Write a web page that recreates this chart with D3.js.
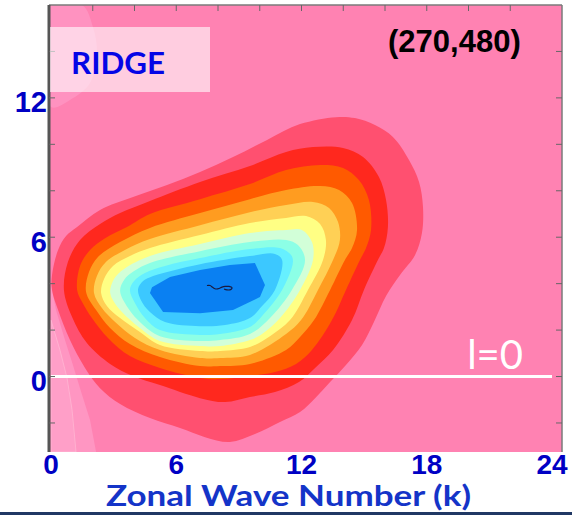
<!DOCTYPE html>
<html>
<head>
<meta charset="utf-8">
<script src="https://cdn.jsdelivr.net/npm/d3@7/dist/d3.min.js"></script>
<style>
  html, body { margin: 0; padding: 0; background: #fff; }
  svg { display: block; }
</style>
</head>
<body>
<svg id="chart" width="572" height="515"></svg>
<script>
// Axis ticks and labels
const kLabels = [0, 6, 12, 18, 24];
const lLabels = [0, 6, 12];
const kMinorTicks = [2, 4, 6, 8, 10, 12, 14, 16, 18, 20, 22];
const lMinorTicks = [-2, 0, 2, 4, 6, 8, 10, 12, 14];

// Contour boundaries in (k, l), outermost level first
const lvCoral = [[0.05,4.37],[0.34,5.45],[0.72,6.05],[1.25,6.44],[2.35,7.17],[3.93,7.73],[5.56,8.25],[7.14,8.81],[8.72,9.45],[10.35,10.19],[11.93,10.87],[13.65,11.17],[14.56,11.13],[15.52,10.83],[16.38,10.32],[17.15,9.33],[17.63,8.38],[17.82,7.3],[17.77,6.18],[17.44,5.23],[16.72,4.37],[16.05,3.47],[15.47,2.35],[14.9,1.36],[14.13,0.5],[13.37,-0.24],[12.65,-0.93],[11.93,-1.53],[10.97,-1.96],[9.77,-2.48],[8.57,-2.82],[7.38,-2.61],[6.18,-2.22],[4.74,-1.79],[3.31,-1.18],[2.35,-0.5],[1.63,0.37],[0.91,1.57],[0.34,2.86],[0.05,3.73]];
const lvRed = [[0.62,3.73],[0.81,4.93],[1.39,5.88],[2.35,6.57],[3.31,7.04],[4.74,7.56],[7.14,8.38],[9.53,9.07],[11.26,9.67],[12.55,9.88],[13.99,9.84],[14.95,9.45],[15.71,8.59],[16.05,7.6],[16.14,6.44],[15.95,5.53],[15.66,5.02],[14.99,3.73],[14.42,2.43],[13.51,1.14],[12.65,0.37],[11.88,-0.24],[10.73,-0.67],[9.53,-0.88],[8.34,-1.1],[7.14,-0.93],[5.22,-0.37],[3.93,0.02],[2.83,0.54],[1.72,1.44],[1.01,2.56]];
const lvOrangeRed = [[1.25,3.73],[1.39,4.76],[1.87,5.45],[2.59,5.96],[3.64,6.44],[4.74,7.0],[7.14,7.64],[9.53,8.29],[11.26,8.89],[12.89,9.11],[13.99,8.98],[14.75,8.46],[15.23,7.6],[15.33,6.31],[15.09,5.53],[14.8,5.02],[14.13,3.73],[13.46,2.43],[12.5,1.14],[11.74,0.54],[10.73,0.19],[9.53,0.02],[8.1,-0.11],[7.14,-0.06],[5.22,0.37],[3.78,0.88],[2.73,1.66],[1.96,2.52],[1.49,3.21]];
const lvOrange = [[1.68,3.64],[1.82,4.5],[2.25,5.15],[3.31,5.79],[4.74,6.4],[7.14,7.04],[9.53,7.64],[11.26,8.03],[12.89,8.2],[13.8,8.03],[14.42,7.47],[14.66,6.31],[14.42,5.53],[14.08,5.02],[13.37,3.73],[12.6,2.43],[11.93,1.7],[11.26,1.14],[9.53,0.54],[8.1,0.45],[7.14,0.45],[5.22,0.84],[3.78,1.4],[2.83,2.09],[2.16,2.86]];
const lvLightOrange = [[2.06,3.6],[2.2,4.33],[2.63,4.93],[3.54,5.45],[4.74,5.92],[7.14,6.52],[9.53,7.08],[11.26,7.39],[12.55,7.52],[13.32,7.26],[13.75,6.65],[13.84,5.88],[13.51,5.02],[12.79,3.73],[11.98,2.43],[11.26,1.83],[9.53,0.93],[8.1,0.8],[7.14,0.8],[5.22,1.14],[4.02,1.66],[3.07,2.35],[2.44,2.95]];
const lvYellow = [[2.4,3.6],[2.54,4.2],[2.97,4.76],[3.78,5.19],[4.74,5.53],[7.14,6.09],[9.53,6.61],[11.26,6.83],[12.22,6.91],[12.89,6.57],[13.17,5.88],[13.03,5.02],[12.31,3.73],[11.45,2.43],[10.49,1.74],[9.53,1.27],[8.1,1.1],[7.14,1.1],[5.22,1.36],[4.26,1.92],[3.31,2.52],[2.68,3.04]];
const lvPaleMint = [[2.83,3.64],[3.02,4.2],[3.5,4.63],[4.74,5.19],[7.14,5.71],[9.53,6.18],[11.26,6.31],[12.02,6.31],[12.5,5.79],[12.55,5.02],[11.93,3.73],[10.97,2.52],[10.11,1.83],[9.53,1.57],[8.1,1.31],[7.14,1.31],[5.22,1.53],[4.26,2.09],[3.4,2.78],[3.02,3.21]];
const lvAqua = [[3.31,3.68],[3.5,4.16],[3.98,4.54],[4.74,4.89],[7.14,5.4],[9.53,5.79],[11.26,5.88],[11.83,5.66],[12.17,5.02],[11.54,3.73],[10.49,2.52],[9.53,1.83],[8.1,1.57],[7.14,1.53],[5.22,1.74],[4.36,2.26],[3.69,2.95]];
const lvCyan = [[3.78,3.73],[3.98,4.11],[4.5,4.46],[5.46,4.76],[7.14,5.1],[9.53,5.49],[10.97,5.53],[11.5,5.23],[11.59,4.93],[11.07,3.73],[10.11,2.61],[9.53,2.13],[8.1,1.83],[7.14,1.79],[5.22,2.0],[4.5,2.52],[4.02,3.17]];
const lvSky = [[4.17,3.77],[4.41,4.11],[4.89,4.33],[5.94,4.59],[7.14,4.84],[9.53,5.19],[10.73,5.28],[11.07,5.02],[10.73,3.73],[10.11,3.04],[9.53,2.52],[8.34,2.22],[7.14,2.17],[5.46,2.35],[4.74,2.78],[4.31,3.29]];
const lvBlue = [[4.84,3.85],[5.7,4.29],[7.14,4.59],[8.57,4.8],[9.77,4.89],[10.25,3.94],[10.01,3.42],[8.72,2.86],[7.14,2.73],[5.37,2.78],[4.74,3.6]];
const innerTrace = [[7.47,3.92],[7.62,3.92],[7.76,3.83],[7.9,3.77],[8.05,3.79],[8.19,3.85],[8.34,3.88],[8.53,3.88],[8.67,3.83],[8.62,3.75],[8.43,3.73],[8.29,3.77]];

// Weak positive areas along the k = 0 edge
const edgeLow = [[0,3.94],[0.24,2.86],[0.67,1.57],[1.05,0.5],[1.49,-0.8],[1.87,-1.87],[2.16,-3.25],[0,-3.25]];
const edgeLowInner = [[0,2.43],[0.43,1.14],[0.77,-0.06],[1.01,-1.44],[1.2,-3.25],[0,-3.25]];
const edgeHigh = [[0,11.61],[0.91,11.91],[1.87,12.64],[2.2,13.93],[2.01,15.05],[1.49,16],[0,16]];

// Fill colours, in the same order as the levels
const levelColors = ["#ff5070", "#ff281e", "#ff5a00", "#ff9c20", "#ffd055", "#ffff84",
                     "#d2ffd8", "#8cffe6", "#66f0ff", "#3cc8ff", "#0a80f2"];
const levels = [lvCoral, lvRed, lvOrangeRed, lvOrange, lvLightOrange, lvYellow,
                lvPaleMint, lvAqua, lvCyan, lvSky, lvBlue];

const svg = d3.select("#chart");
const plot = { left: 49, right: 562, top: 5, bottom: 452 };

const x = d3.scaleLinear().domain([0, 24]).range([51, 552]);
const y = d3.scaleLinear().domain([-3.25, 16]).range([plot.bottom, plot.top]);

svg.append("rect").attr("width", 572).attr("height", 515).attr("fill", "#fff");

svg.append("defs").append("clipPath").attr("id", "plotClip")
  .append("rect")
  .attr("x", plot.left).attr("y", plot.top)
  .attr("width", plot.right - plot.left).attr("height", plot.bottom - plot.top);

const g = svg.append("g").attr("clip-path", "url(#plotClip)");

g.append("rect")
  .attr("x", plot.left).attr("y", plot.top)
  .attr("width", plot.right - plot.left).attr("height", plot.bottom - plot.top)
  .attr("fill", "#ff82b2");

const smooth = d3.line().x(d => x(d[0])).y(d => y(d[1])).curve(d3.curveCatmullRomClosed.alpha(0.5));
const straight = d3.line().x(d => x(d[0])).y(d => y(d[1])).curve(d3.curveLinearClosed);
const open = d3.line().x(d => x(d[0])).y(d => y(d[1])).curve(d3.curveCatmullRom.alpha(0.5));

g.append("path").attr("d", straight(edgeLow)).attr("fill", "#ff96c2");
g.append("path").attr("d", straight(edgeLowInner)).attr("fill", "#ff9fc8")
  .attr("stroke", "#ffc8dc").attr("stroke-width", 1).attr("stroke-opacity", 0.5);
g.append("path").attr("d", smooth(edgeHigh)).attr("fill", "#ff92c0");

levels.forEach((pts, i) => {
  const gen = i === levels.length - 1 ? straight : smooth;
  g.append("path").attr("d", gen(pts)).attr("fill", levelColors[i]);
});

g.append("path").attr("d", open(innerTrace))
  .attr("fill", "none").attr("stroke", "#1a1a40").attr("stroke-width", 1.2);

// l = 0 reference line
g.append("line")
  .attr("x1", x(0)).attr("x2", x(24))
  .attr("y1", y(0)).attr("y2", y(0))
  .attr("stroke", "#fff").attr("stroke-width", 3);

svg.append("text")
  .attr("x", x(24) - 29).attr("y", y(0) - 8)
  .attr("text-anchor", "end")
  .attr("font-family", "Lato, 'Open Sans', sans-serif")
  .attr("font-size", 40).attr("fill", "#fff")
  .text("l=0");

// Frame and inner ticks
const frame = svg.append("g");
frame.append("line").attr("x1", plot.left).attr("x2", plot.right).attr("y1", plot.top).attr("y2", plot.top)
  .attr("stroke", "#7a7a7a").attr("stroke-width", 1.5);
frame.append("line").attr("x1", plot.right).attr("x2", plot.right).attr("y1", plot.top).attr("y2", plot.bottom)
  .attr("stroke", "#7a7a7a").attr("stroke-width", 1.5);
frame.append("line").attr("x1", plot.left).attr("x2", plot.left).attr("y1", plot.top).attr("y2", plot.bottom)
  .attr("stroke", "#555").attr("stroke-width", 3);

frame.selectAll(".tt").data(kMinorTicks).join("line")
  .attr("x1", d => x(d)).attr("x2", d => x(d)).attr("y1", plot.top).attr("y2", plot.top + 6)
  .attr("stroke", "#666").attr("stroke-width", 1);
frame.selectAll(".lt").data(lMinorTicks).join("line")
  .attr("x1", plot.left).attr("x2", plot.left + 6).attr("y1", d => y(d)).attr("y2", d => y(d))
  .attr("stroke", "#666").attr("stroke-width", 1);
frame.selectAll(".rt").data(lMinorTicks).join("line")
  .attr("x1", plot.right - 6).attr("x2", plot.right).attr("y1", d => y(d)).attr("y2", d => y(d))
  .attr("stroke", "#666").attr("stroke-width", 1);

// Tick labels
svg.append("g").selectAll("text").data(kLabels).join("text")
  .attr("x", d => x(d)).attr("y", 474)
  .attr("text-anchor", "middle")
  .attr("font-family", "'Liberation Sans', Arial, sans-serif")
  .attr("font-weight", "bold").attr("font-size", 28).attr("fill", "#0000c4")
  .text(d => d);

svg.append("g").selectAll("text").data(lLabels).join("text")
  .attr("x", 47).attr("y", d => y(d) + 14.5)
  .attr("text-anchor", "end")
  .attr("font-family", "'Liberation Sans', Arial, sans-serif")
  .attr("font-weight", "bold").attr("font-size", 29).attr("fill", "#0000c4")
  .text(d => d);

svg.append("text")
  .attr("x", 106).attr("y", 506)
  .attr("font-family", "Lato, 'Open Sans', sans-serif")
  .attr("font-weight", "bold").attr("font-size", 29).attr("fill", "#1434c8")
  .attr("textLength", 365).attr("lengthAdjust", "spacingAndGlyphs")
  .text("Zonal Wave Number (k)");

// Label box and case tag
svg.append("rect")
  .attr("x", 50).attr("y", 27).attr("width", 160).attr("height", 65)
  .attr("fill", "#fff").attr("fill-opacity", 0.6);
svg.append("text")
  .attr("x", 71).attr("y", 74)
  .attr("font-family", "Lato, 'Open Sans', sans-serif")
  .attr("font-weight", "bold").attr("font-size", 30).attr("fill", "#0505e6")
  .attr("textLength", 94).attr("lengthAdjust", "spacingAndGlyphs")
  .text("RIDGE");

svg.append("text")
  .attr("x", 388).attr("y", 52)
  .attr("font-family", "'Liberation Sans', Arial, sans-serif")
  .attr("font-weight", "bold").attr("font-size", 31).attr("fill", "#000")
  .text("(270,480)");

// Rule along the bottom edge
svg.append("rect").attr("x", 0).attr("y", 512).attr("width", 572).attr("height", 3).attr("fill", "#203864");
</script>
</body>
</html>
